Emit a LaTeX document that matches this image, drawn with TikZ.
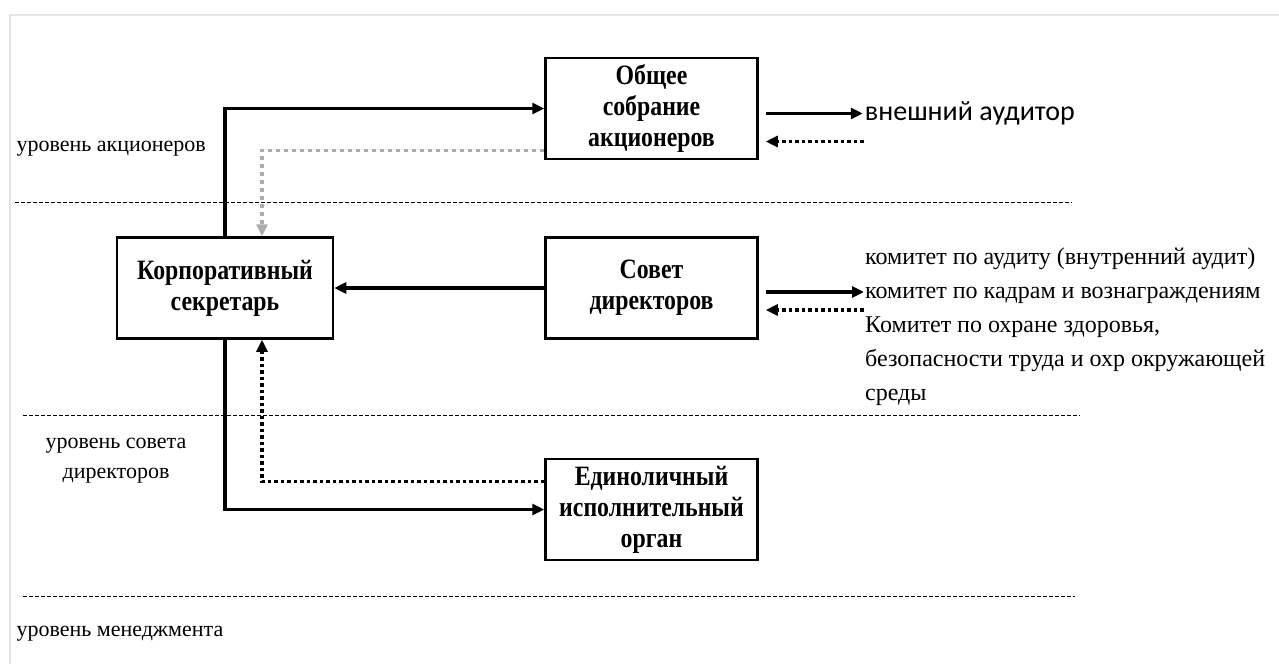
\documentclass[tikz,border=0pt]{standalone}
\usepackage{fontspec}
\setmainfont{Liberation Serif}
\newfontfamily\boxfont[FakeStretch=0.85]{Liberation Serif}
\newfontfamily\auditfont{Carlito}
\usetikzlibrary{arrows.meta,positioning}
\tikzstyle{block} = [rectangle, draw, line width=2.5pt, minimum width=212pt, minimum height=101pt, align=center, font=\boxfont\bfseries\fontsize{28}{31}\selectfont]
\tikzstyle{lvltext} = [font=\fontsize{22}{30}\selectfont, align=center]
\tikzstyle{commtext} = [font=\fontsize{24}{34}\selectfont, align=left]
\tikzstyle{outer} = [font=\auditfont\fontsize{28}{30}\selectfont, inner sep=2pt]
\tikzstyle{level} = [line width=0.9pt, dash pattern=on 4pt off 2pt]
\tikzstyle{flow} = [->, line width=3.5pt]
\tikzstyle{back} = [->, line width=3.5pt, dash pattern=on 3.5pt off 3pt]
\tikzstyle{info} = [->, line width=3.5pt, gray!65, dash pattern=on 4pt off 4pt]

\begin{document}
\begin{tikzpicture}[x=1pt,y=-1pt,node distance=76pt and 210pt,>={Triangle[length=12pt,width=11pt]}]
  \useasboundingbox (0,0) rectangle (1279,664);
  \draw[gray!20, line width=2pt] (10,664) -- (10,15) -- (1279,15);

  \node [block, minimum width=216pt] (secr) at (225,288) {Корпоративный\\секретарь};
  \node [block, right=210pt of secr] (board) {Совет\\директоров};
  \node [block, above=of board] (meeting) {Общее\\собрание\\акционеров};
  \node [block, below=118pt of board] (ceo) {Единоличный\\исполнительный\\орган};

  % levels
  \draw[level] (15,202) -- (1072,202);
  \draw[level] (23,415) -- (1080,415);
  \draw[level] (23,596) -- (1075,596);
  \node [lvltext, anchor=west] (lvlshare) at (13,149) {уровень акционеров};
  \node [lvltext] (lvlboard) at (116,461) {уровень совета\\директоров};
  \node [lvltext, anchor=west] (lvlmgmt) at (13,634) {уровень менеджмента};

  % outside the boxes
  \node [outer, right=104pt of meeting, yshift=-5pt] (auditor) {внешний аудитор};
  \coordinate (fromaud) at ([xshift=105pt,yshift=-33pt]meeting.east);
  \node [commtext, anchor=west, inner sep=1pt] (comm) at (864,327) {комитет по аудиту (внутренний аудит)\\комитет по кадрам и вознаграждениям\\Комитет по охране здоровья,\\безопасности труда и охр окружающей\\среды};
  \coordinate (fromcomm) at ([xshift=105pt,yshift=-22pt]board.east);

  \draw[flow](secr.north) |- (meeting.west);
  \draw[info]([yshift=-42pt]meeting.west) -| ([xshift=37pt]secr.north);
  \draw[flow](board) -- (secr);
  \draw[flow](secr.south) |- (ceo.west);
  \draw[back]([yshift=28pt]ceo.west) -| ([xshift=37pt]secr.south);

  \draw[flow]([xshift=7pt]meeting.east |- auditor.west) -- (auditor.west);
  \draw[back](fromaud) -- ([xshift=7pt,yshift=-33pt]meeting.east);
  \draw[flow]([xshift=7pt,yshift=-4pt]board.east) -- ([yshift=-4pt]board.east -| comm.west);
  \draw[back](fromcomm) -- ([xshift=7pt,yshift=-22pt]board.east);
\end{tikzpicture}
\end{document}
